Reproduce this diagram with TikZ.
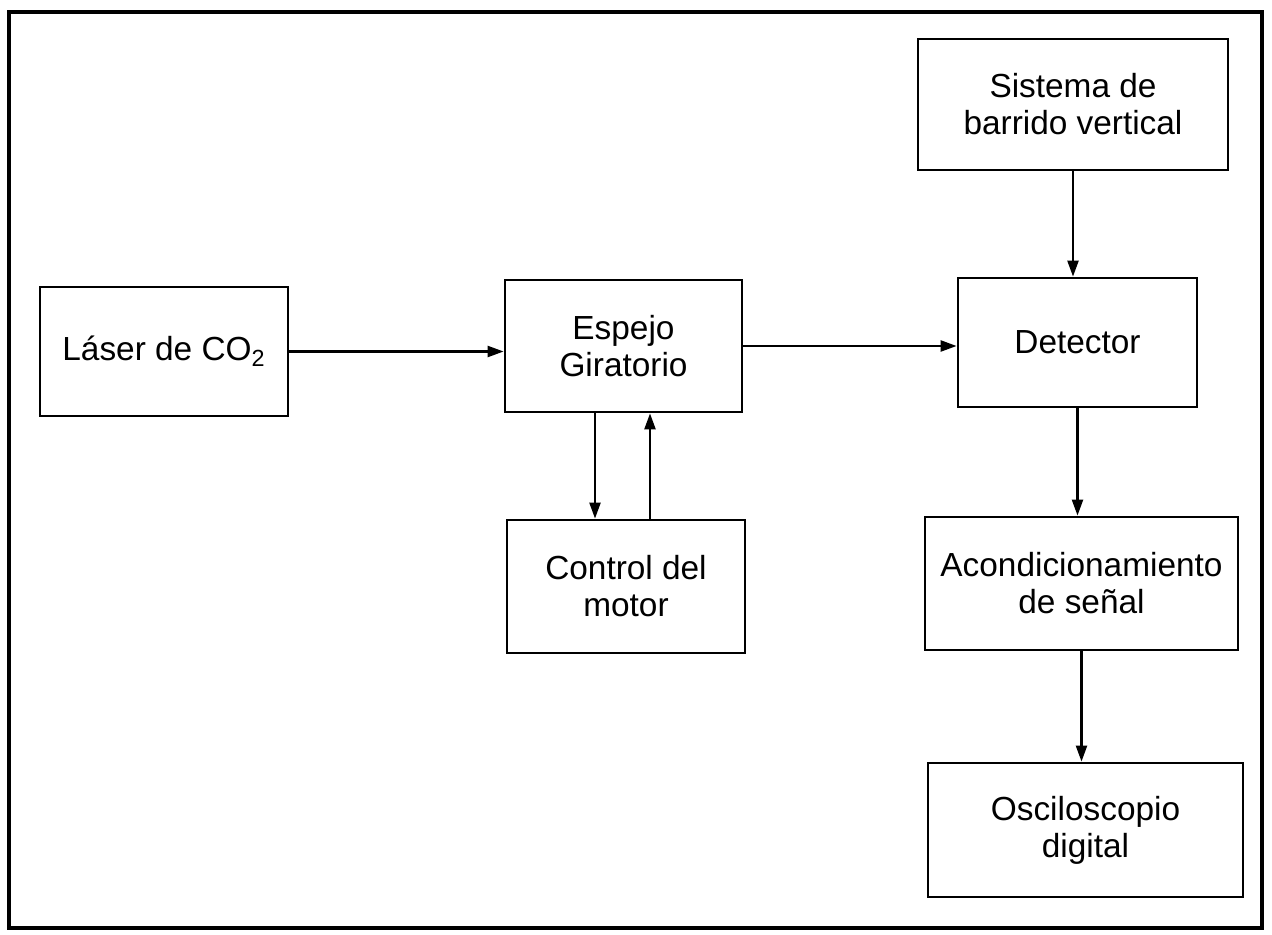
\documentclass[tikz,border=0pt]{standalone}
\usepackage{fontspec}
\setmainfont{Liberation Sans}
\usetikzlibrary{arrows.meta}
\begin{document}
\begin{tikzpicture}[x=0.02cm, y=-0.02cm, >={Triangle[length=3.2mm,width=2.2mm]},
  bloque/.style={draw, line width=1.6pt, align=center, inner sep=2pt, font=\fontsize{19}{21}\selectfont},
  flecha/.style={->, line width=1.3pt}]
\useasboundingbox (0,0) rectangle (1272,935);
\draw[line width=1.8pt] (9,12) rectangle (1262,928);
\node[bloque, minimum width=4.96cm, minimum height=2.58cm] (laser) at (164,351.5) {Láser de CO\textsubscript{2}};
\node[bloque, minimum width=4.74cm, minimum height=2.64cm] (espejo) at (623.5,346) {Espejo\\Giratorio};
\node[bloque, minimum width=4.76cm, minimum height=2.66cm] (control) at (626,586.5) {Control del\\motor};
\node[bloque, minimum width=6.2cm, minimum height=2.62cm] (sistema) at (1073,104.5) {Sistema de\\barrido vertical};
\node[bloque, minimum width=4.78cm, minimum height=2.58cm] (detector) at (1077.5,342.5) {Detector};
\node[bloque, minimum width=6.26cm, minimum height=2.66cm] (acond) at (1081.5,583.5) {Acondicionamiento\\de señal};
\node[bloque, minimum width=6.3cm, minimum height=2.68cm] (osc) at (1085.5,830) {Osciloscopio\\digital};
\draw[flecha] (laser.east) -- (laser.east -| espejo.west);
\draw[flecha] (espejo.east) -- (espejo.east -| detector.west);
\draw[flecha] ([xshift=-0.57cm]espejo.south) -- ([xshift=-0.57cm]espejo.south |- control.north);
\draw[flecha] ([xshift=0.53cm]espejo.south |- control.north) -- ([xshift=0.53cm]espejo.south);
\draw[flecha] (sistema.south) -- (sistema.south |- detector.north);
\draw[flecha] (detector.south) -- (detector.south |- acond.north);
\draw[flecha] (acond.south) -- (acond.south |- osc.north);
\end{tikzpicture}
\end{document}
